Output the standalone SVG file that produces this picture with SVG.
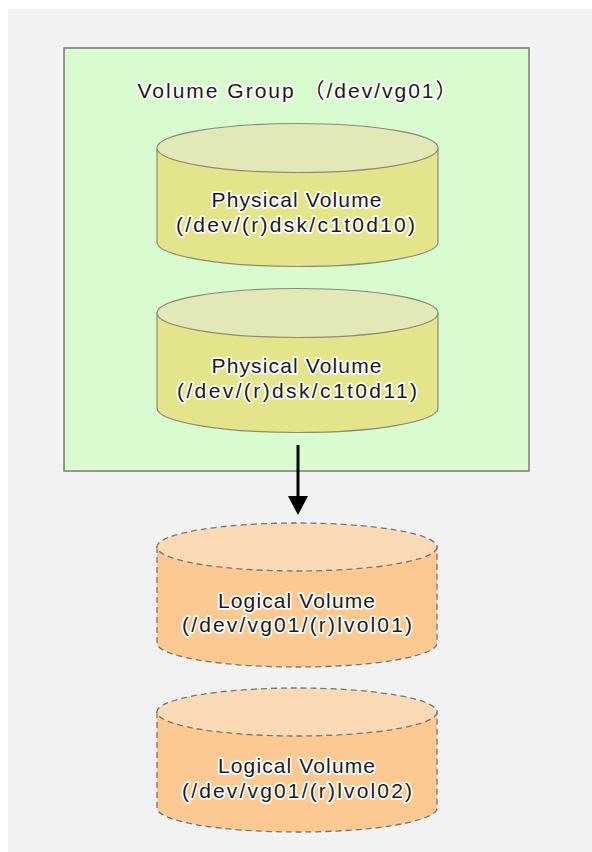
<svg xmlns="http://www.w3.org/2000/svg" width="592" height="852" viewBox="0 0 592 852">
  <style>
    .lbl { font-family: "Liberation Sans", "Noto Sans CJK JP", Arial, sans-serif; font-size: 21px; fill: #1a1a1a; stroke: #ffffff; stroke-width: 3.5px; stroke-linejoin: round; paint-order: stroke fill; text-anchor: middle; }
    .pv-body { fill: #e4e58b; stroke: #8a8a7a; stroke-width: 1.2; }
    .pv-top { fill: #e2e9b7; stroke: #8a8a7a; stroke-width: 1.2; }
    .lv-body { fill: #fdc992; stroke: #777777; stroke-width: 1.3; stroke-dasharray: 6 4; }
    .lv-top { fill: #fddab6; stroke: #777777; stroke-width: 1.3; stroke-dasharray: 6 4; }
  </style>
  <rect x="0" y="0" width="592" height="852" fill="#ffffff"/>
  <rect x="8" y="9" width="584" height="843" fill="#f2f2f2"/>

  <g id="volume-group">
    <rect x="64" y="48" width="465" height="423" fill="#d9fbd0" stroke="#7a7a7a" stroke-width="1.5"/>
    <text class="lbl" x="297" y="98" textLength="319" lengthAdjust="spacing">Volume Group （/dev/vg01）</text>
  </g>

  <g id="pv1">
    <path class="pv-body" d="M157,148 V242 A140.5,24.5 0 0 0 438,242 V148 Z"/>
    <ellipse class="pv-top" cx="297.5" cy="148" rx="140.5" ry="24.5"/>
    <text class="lbl" x="296.5" y="207" textLength="170" lengthAdjust="spacing">Physical Volume</text>
    <text class="lbl" x="295.5" y="232" textLength="239" lengthAdjust="spacing">(/dev/(r)dsk/c1t0d10)</text>
  </g>

  <g id="pv2">
    <path class="pv-body" d="M157,313 V408 A140.5,24.5 0 0 0 438,408 V313 Z"/>
    <ellipse class="pv-top" cx="297.5" cy="313" rx="140.5" ry="24.5"/>
    <text class="lbl" x="296.5" y="373" textLength="170" lengthAdjust="spacing">Physical Volume</text>
    <text class="lbl" x="297" y="398" textLength="240" lengthAdjust="spacing">(/dev/(r)dsk/c1t0d11)</text>
  </g>

  <g id="lv1">
    <path class="lv-body" d="M157,547 V643 A140,24 0 0 0 437,643 V547 Z"/>
    <ellipse class="lv-top" cx="297" cy="547" rx="140" ry="24"/>
    <text class="lbl" x="296.5" y="608" textLength="157" lengthAdjust="spacing">Logical Volume</text>
    <text class="lbl" x="297" y="632" textLength="230" lengthAdjust="spacing">(/dev/vg01/(r)lvol01)</text>
  </g>

  <g id="lv2">
    <path class="lv-body" d="M157,712 V808 A140,24 0 0 0 437,808 V712 Z"/>
    <ellipse class="lv-top" cx="297" cy="712" rx="140" ry="24"/>
    <text class="lbl" x="296.5" y="773" textLength="157" lengthAdjust="spacing">Logical Volume</text>
    <text class="lbl" x="297" y="798" textLength="230" lengthAdjust="spacing">(/dev/vg01/(r)lvol02)</text>
  </g>

  <g id="connectors">
    <line x1="298" y1="445" x2="298" y2="497" stroke="#000000" stroke-width="3"/>
    <polygon points="288,496 308,496 298,515" fill="#000000"/>
  </g>
</svg>
